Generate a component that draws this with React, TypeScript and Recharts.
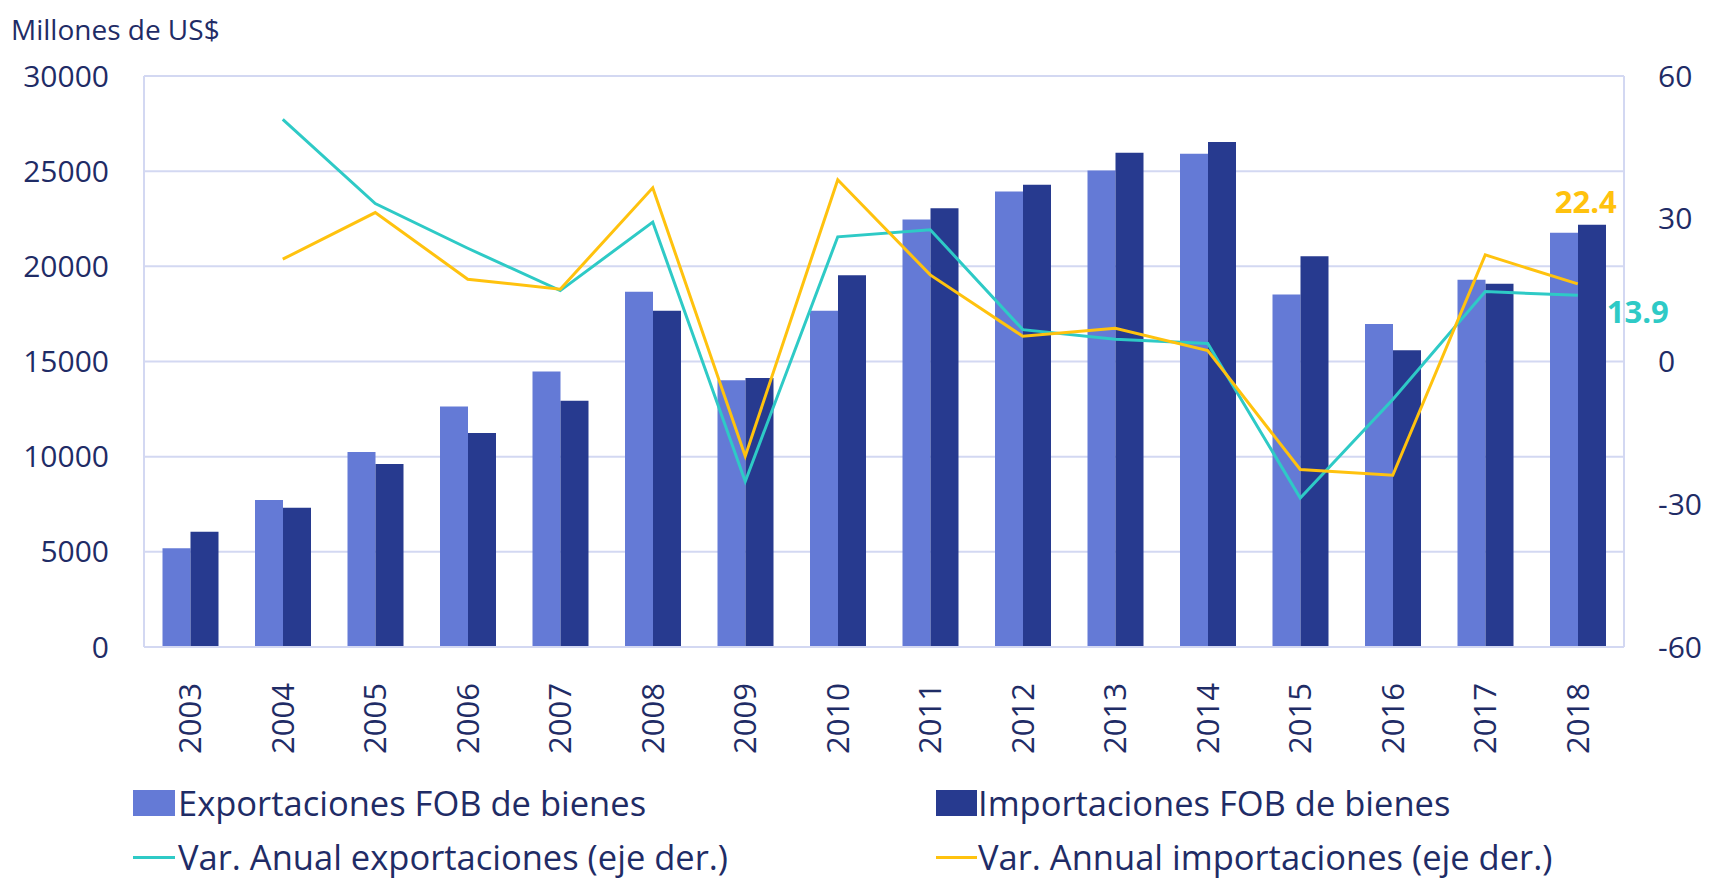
import React from "react";
import {
  ComposedChart,
  Bar,
  Line,
  XAxis,
  YAxis,
  CartesianGrid,
  LabelList,
} from "recharts";

const years = [
  "2003", "2004", "2005", "2006", "2007", "2008", "2009", "2010",
  "2011", "2012", "2013", "2014", "2015", "2016", "2017", "2018",
];
const exportaciones = [
  5190, 7720, 10240, 12640, 14480, 18670, 14010, 17660,
  22460, 23930, 25040, 25910, 18520, 16970, 19290, 21760,
];
const importaciones = [
  6050, 7310, 9610, 11240, 12940, 17660, 14130, 19530,
  23050, 24280, 25970, 26530, 20530, 15590, 19080, 22180,
];
const varExportaciones = [
  null, 50.9, 33.2, 23.8, 14.9, 29.3, -25.2, 26.2,
  27.7, 6.7, 4.7, 3.8, -28.7, -8.0, 14.7, 13.9,
];
const varImportaciones = [
  null, 21.5, 31.3, 17.3, 15.2, 36.5, -19.9, 38.2,
  18.2, 5.3, 7.0, 2.3, -22.7, -23.9, 22.4, 16.3,
];
const leftTicks = [0, 5000, 10000, 15000, 20000, 25000, 30000];
const rightTicks = [-60, -30, 0, 30, 60];
const labelExp = "13.9";
const labelImp = "22.4";

const data = years.map((y, i) => ({
  year: y,
  exp: exportaciones[i],
  imp: importaciones[i],
  vexp: varExportaciones[i],
  vimp: varImportaciones[i],
}));

const NAVY = "#1F2C66";
const GRID = "#D3D8F2";
const C_EXP = "#647AD6";
const C_IMP = "#273A8F";
const C_VEXP = "#2ECAC6";
const C_VIMP = "#FFC20E";
const FONT = '"Open Sans", sans-serif';

const YearTick = (props: any) => {
  const { x, y, payload } = props;
  return (
    <g transform={`translate(${x},${y + 34}) rotate(-90)`}>
      <text x={0} y={0} dy="0.36em" textAnchor="end" fill={NAVY} fontSize={31} fontFamily={FONT}>
        {payload.value}
      </text>
    </g>
  );
};

const last = years.length - 1;

const ImpLabel = (props: any) => {
  const { x, y, index } = props;
  if (index !== last) return null;
  return (
    <text x={x + 8} y={y - 82} dy="0.36em" textAnchor="middle" fill={C_VIMP} fontSize={31} fontWeight={700} fontFamily={FONT}>
      {labelImp}
    </text>
  );
};

const ExpLabel = (props: any) => {
  const { x, y, index } = props;
  if (index !== last) return null;
  return (
    <text x={x + 60} y={y + 16} dy="0.36em" textAnchor="middle" fill={C_VEXP} fontSize={31} fontWeight={700} fontFamily={FONT}>
      {labelExp}
    </text>
  );
};

const legendText: React.CSSProperties = {
  position: "absolute",
  fontSize: 34.5,
  color: NAVY,
  fontFamily: FONT,
  lineHeight: "40px",
  whiteSpace: "nowrap",
};

export default function App() {
  return (
    <div style={{ position: "absolute", left: 0, top: 0, width: 1709, height: 878, background: "#fff", fontFamily: FONT }}>
      <div style={{ position: "absolute", left: 11, top: 11, fontSize: 28, color: NAVY, lineHeight: "36px" }}>
        Millones de US$
      </div>
      <ComposedChart
        width={1709}
        height={878}
        data={data}
        margin={{ top: 76, right: 0, bottom: 0, left: 0 }}
        barCategoryGap="20%"
        barGap={0}
      >
        <CartesianGrid yAxisId="left" vertical={false} stroke={GRID} strokeWidth={2} />
        <XAxis
          dataKey="year"
          height={231}
          axisLine={{ stroke: GRID, strokeWidth: 2 }}
          tickLine={false}
          tickSize={0}
          tick={<YearTick />}
          interval={0}
        />
        <YAxis
          yAxisId="left"
          width={144}
          domain={[0, 30000]}
          ticks={leftTicks}
          axisLine={{ stroke: GRID, strokeWidth: 2 }}
          tickLine={false}
          tickSize={0}
          tickMargin={35}
          tick={{ fill: NAVY, fontSize: 30, fontFamily: FONT }}
        />
        <YAxis
          yAxisId="right"
          orientation="right"
          width={85}
          domain={[-60, 60]}
          ticks={rightTicks}
          axisLine={{ stroke: GRID, strokeWidth: 2 }}
          tickLine={false}
          tickSize={0}
          tickMargin={34}
          tick={{ fill: NAVY, fontSize: 30, fontFamily: FONT, textAnchor: "start" }}
        />
        <Bar yAxisId="left" dataKey="exp" fill={C_EXP} isAnimationActive={false} />
        <Bar yAxisId="left" dataKey="imp" fill={C_IMP} isAnimationActive={false} />
        <Line
          yAxisId="right"
          dataKey="vexp"
          stroke={C_VEXP}
          strokeWidth={3}
          dot={false}
          isAnimationActive={false}
        >
          <LabelList dataKey="vexp" content={<ExpLabel />} />
        </Line>
        <Line
          yAxisId="right"
          dataKey="vimp"
          stroke={C_VIMP}
          strokeWidth={3}
          dot={false}
          isAnimationActive={false}
        >
          <LabelList dataKey="vimp" content={<ImpLabel />} />
        </Line>
      </ComposedChart>

      {/* leyenda */}
      <div style={{ position: "absolute", left: 133, top: 790, width: 42, height: 26, background: C_EXP }} />
      <div style={{ ...legendText, left: 178, top: 783 }}>Exportaciones FOB de bienes</div>
      <div style={{ position: "absolute", left: 936, top: 790, width: 41, height: 26, background: C_IMP }} />
      <div style={{ ...legendText, left: 978, top: 783 }}>Importaciones FOB de bienes</div>
      <div style={{ position: "absolute", left: 133, top: 856, width: 42, height: 3, background: C_VEXP }} />
      <div style={{ ...legendText, left: 178, top: 837 }}>Var. Anual exportaciones (eje der.)</div>
      <div style={{ position: "absolute", left: 936, top: 856, width: 41, height: 3, background: C_VIMP }} />
      <div style={{ ...legendText, left: 978, top: 837 }}>Var. Annual importaciones (eje der.)</div>
    </div>
  );
}
